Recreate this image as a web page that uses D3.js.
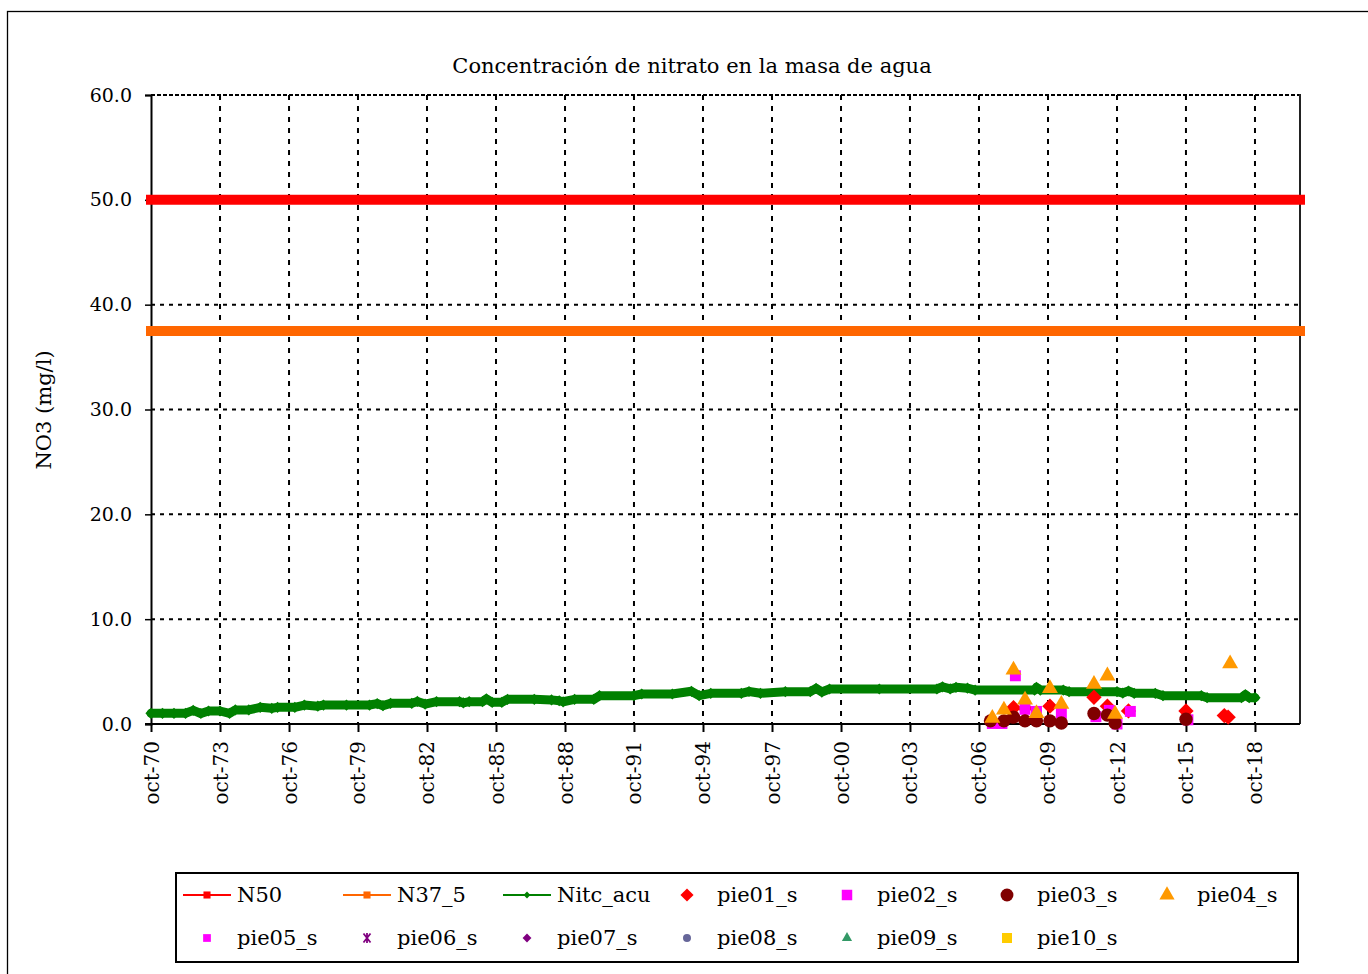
<!DOCTYPE html>
<html>
<head>
<meta charset="utf-8">
<script src="https://cdn.jsdelivr.net/npm/d3@7"></script>
<style>
  html, body { margin: 0; padding: 0; background: #fff; }
  svg { display: block; }
  text { font-family: "DejaVu Serif", "Liberation Serif", serif; fill: #000; }
</style>
</head>
<body>
<svg id="chart" width="1368" height="974"></svg>
<script>
// ---------- DATA ----------
const title = "Concentración de nitrato en la masa de agua";
const yLabel = "NO3 (mg/l)";
const yTicks = [0, 10, 20, 30, 40, 50, 60];
const xTickYears = [1970, 1973, 1976, 1979, 1982, 1985, 1988, 1991, 1994, 1997, 2000, 2003, 2006, 2009, 2012, 2015, 2018];
const n50Value = 50;
const n375Value = 37.5;

const nitcAcu = [
  ["1970-10", 1.02], ["1971-04", 1.02], ["1971-10", 1.02], ["1972-04", 1.02], ["1972-08", 1.30], ["1972-12", 1.00],
  ["1973-04", 1.24], ["1973-10", 1.24], ["1974-03", 1.02], ["1974-06", 1.34], ["1975-01", 1.34], ["1975-07", 1.59],
  ["1976-01", 1.50], ["1976-04", 1.59], ["1977-01", 1.59], ["1977-06", 1.81], ["1978-01", 1.70], ["1978-04", 1.81],
  ["1979-04", 1.81], ["1980-04", 1.81], ["1980-08", 1.95], ["1980-11", 1.75], ["1981-03", 1.97], ["1982-02", 1.97],
  ["1982-05", 2.15], ["1982-09", 1.90], ["1983-03", 2.13], ["1984-03", 2.13], ["1984-05", 2.02], ["1984-08", 2.13],
  ["1985-03", 2.13], ["1985-05", 2.40], ["1985-08", 2.07], ["1986-01", 2.07], ["1986-04", 2.35], ["1987-06", 2.35],
  ["1988-03", 2.30], ["1988-07", 2.22], ["1988-09", 2.12], ["1989-03", 2.35], ["1990-01", 2.35], ["1990-04", 2.70],
  ["1991-10", 2.70], ["1992-02", 2.86], ["1993-06", 2.86], ["1994-04", 3.12], ["1994-08", 2.70], ["1995-02", 2.93],
  ["1996-06", 2.93], ["1996-10", 3.10], ["1997-04", 2.93], ["1998-05", 3.08], ["1999-06", 3.08], ["1999-09", 3.40],
  ["1999-12", 3.05], ["2000-04", 3.34], ["2002-06", 3.34], ["2004-12", 3.34], ["2005-03", 3.55], ["2005-07", 3.35],
  ["2005-10", 3.50], ["2006-04", 3.42], ["2006-08", 3.24], ["2009-03", 3.24], ["2009-04", 3.50], ["2009-06", 3.24],
  ["2010-06", 3.24], ["2010-09", 3.08], ["2012-10", 3.08], ["2013-01", 2.95], ["2013-04", 3.15], ["2013-07", 2.93],
  ["2014-06", 2.93], ["2014-10", 2.70], ["2016-06", 2.70], ["2016-09", 2.51], ["2018-03", 2.51], ["2018-05", 2.80],
  ["2018-07", 2.51], ["2018-10", 2.51]
];

const pie01 = [["2008-04", 1.55], ["2008-10", 1.50], ["2009-11", 1.70], ["2011-10", 2.55], ["2012-05", 1.70],
  ["2013-04", 1.25], ["2015-10", 1.25], ["2017-06", 0.80], ["2017-08", 0.65]];
const pie02 = [["2007-05", 0.05], ["2007-10", 0.05], ["2008-05", 4.60], ["2008-10", 1.40], ["2009-04", 1.20],
  ["2010-05", 1.05], ["2011-11", 0.70], ["2012-06", 1.30], ["2012-10", 0.00], ["2013-05", 1.20], ["2015-11", 0.40]];
const pie03 = [["2007-04", 0.30], ["2007-11", 0.30], ["2008-04", 0.65], ["2008-10", 0.30], ["2009-04", 0.30],
  ["2009-11", 0.30], ["2010-05", 0.10], ["2011-10", 1.00], ["2012-05", 0.85], ["2012-09", 0.10], ["2015-10", 0.45]];
const pie04 = [["2007-05", 0.55], ["2007-11", 1.35], ["2008-04", 5.15], ["2008-10", 2.30], ["2009-04", 1.00],
  ["2009-11", 3.40], ["2010-05", 1.90], ["2011-10", 3.80], ["2012-05", 4.60], ["2012-09", 0.95], ["2017-09", 5.75]];

const legendRow1 = ["N50", "N37_5", "Nitc_acu", "pie01_s", "pie02_s", "pie03_s", "pie04_s"];
const legendRow2 = ["pie05_s", "pie06_s", "pie07_s", "pie08_s", "pie09_s", "pie10_s"];

// ---------- LAYOUT ----------
const svg = d3.select("#chart");
const L = 151, R = 1300, T = 95, B = 724;
const parse = d3.timeParse("%Y-%m");
const x = d3.scaleTime().domain([new Date(1970, 9, 1), new Date(2020, 8, 15)]).range([L, R]);
const y = d3.scaleLinear().domain([0, 60]).range([B, T]);

// outer border
svg.append("rect").attr("x", 7.5).attr("y", 11.5).attr("width", 1400).attr("height", 1000)
  .attr("fill", "none").attr("stroke", "#000").attr("stroke-width", 1.3);

// title
svg.append("text").attr("x", 692).attr("y", 73).attr("text-anchor", "middle")
  .style("font-size", "21px").text(title);

// y label
svg.append("text").attr("transform", "translate(51,410) rotate(-90)").attr("text-anchor", "middle")
  .style("font-size", "21px").text(yLabel);

// grid
const grid = svg.append("g");
grid.selectAll("line.h").data(yTicks.filter(d => d > 0 && d < 60)).join("line")
  .attr("x1", L).attr("x2", R).attr("y1", d => y(d)).attr("y2", d => y(d))
  .attr("stroke", "#000").attr("stroke-width", 2).attr("stroke-dasharray", "4,5");
grid.append("line").attr("x1", L).attr("x2", R).attr("y1", y(60)).attr("y2", y(60))
  .attr("stroke", "#000").attr("stroke-width", 2).attr("stroke-dasharray", "4,2");
grid.selectAll("line.v").data(xTickYears.slice(1)).join("line")
  .attr("x1", d => x(new Date(d, 9, 1))).attr("x2", d => x(new Date(d, 9, 1)))
  .attr("y1", T).attr("y2", B)
  .attr("stroke", "#000").attr("stroke-width", 2).attr("stroke-dasharray", "5,6");
// right border
svg.append("line").attr("x1", R).attr("x2", R).attr("y1", T - 1).attr("y2", B)
  .attr("stroke", "#222").attr("stroke-width", 2);

// axes
const yAxis = svg.append("g").attr("transform", `translate(${L},0)`)
  .call(d3.axisLeft(y).tickValues(yTicks).tickSize(6).tickPadding(13).tickFormat(d3.format(".1f")));
yAxis.select(".domain").attr("stroke", "#000").attr("stroke-width", 2);
yAxis.selectAll(".tick line").attr("stroke", "#000").attr("stroke-width", 1.5);
yAxis.selectAll("text").style("font-size", "19px").style("font-family", "DejaVu Serif");

const fmtYr = d3.timeFormat("%y");
const xAxis = svg.append("g").attr("transform", `translate(0,${B})`)
  .call(d3.axisBottom(x).tickValues(xTickYears.map(d => new Date(d, 9, 1))).tickSize(8)
    .tickFormat(d => "oct-" + fmtYr(d)));
xAxis.select(".domain").attr("stroke", "#000").attr("stroke-width", 2).attr("d", `M${L - 6},0H${R}`);
xAxis.selectAll(".tick line").attr("stroke", "#000").attr("stroke-width", 2);
xAxis.selectAll("text").style("font-size", "20px").style("font-family", "DejaVu Serif")
  .attr("transform", "rotate(-90)").attr("text-anchor", "end")
  .attr("x", -17).attr("y", 0).attr("dy", "0.35em");

// threshold lines
svg.append("line").attr("x1", x.range()[0]).attr("x2", x.range()[1])
  .attr("y1", y(n50Value)).attr("y2", y(n50Value))
  .attr("stroke", "#ff0000").attr("stroke-width", 10).attr("stroke-linecap", "square");
svg.append("line").attr("x1", x.range()[0]).attr("x2", x.range()[1])
  .attr("y1", y(n375Value)).attr("y2", y(n375Value))
  .attr("stroke", "#ff6600").attr("stroke-width", 10).attr("stroke-linecap", "square");

// Nitc_acu
const nitc = nitcAcu.map(d => ({ date: parse(d[0]), v: d[1] }));
svg.append("path").datum(nitc)
  .attr("d", d3.line().x(d => x(d.date)).y(d => y(d.v)))
  .attr("fill", "none").attr("stroke", "#008000").attr("stroke-width", 9).attr("stroke-linejoin", "round")
  .attr("stroke-linecap", "round");
svg.append("g").selectAll("path").data(nitc).join("path")
  .attr("transform", d => `translate(${x(d.date)},${y(d.v)})`)
  .attr("d", d3.symbol(d3.symbolDiamond2, 80)())
  .attr("fill", "#008000");

// scatter series
function scatter(data, sym, size, color) {
  svg.append("g").selectAll("path").data(data.map(d => ({ date: parse(d[0]), v: d[1] }))).join("path")
    .attr("transform", d => `translate(${x(d.date)},${y(d.v)})`)
    .attr("d", d3.symbol(sym, size)())
    .attr("fill", color);
}
scatter(pie01, d3.symbolDiamond2, 150, "#ff0000");
scatter(pie02, d3.symbolSquare, 120, "#ff00ff");
scatter(pie03, d3.symbolCircle, 140, "#800000");
scatter(pie04, d3.symbolTriangle, 110, "#ff9900");

// legend
const lg = svg.append("g");
lg.append("rect").attr("x", 176).attr("y", 873).attr("width", 1122).attr("height", 89)
  .attr("fill", "#fff").attr("stroke", "#000").attr("stroke-width", 2);
const colX = i => 207 + i * 160;
const row1Y = 895, row2Y = 938;
const row1Style = [
  { line: "#ff0000", sym: d3.symbolSquare, size: 50, color: "#ff0000" },
  { line: "#ff6600", sym: d3.symbolSquare, size: 50, color: "#ff6600" },
  { line: "#008000", sym: d3.symbolDiamond2, size: 30, color: "#008000" },
  { sym: d3.symbolDiamond2, size: 110, color: "#ff0000" },
  { sym: d3.symbolSquare, size: 110, color: "#ff00ff" },
  { sym: d3.symbolCircle, size: 130, color: "#800000" },
  { sym: d3.symbolTriangle, size: 100, color: "#ff9900" }
];
const row2Style = [
  { sym: d3.symbolSquare, size: 60, color: "#ff00ff" },
  { sym: "star", size: 60, color: "#800080" },
  { sym: d3.symbolDiamond2, size: 50, color: "#800080" },
  { sym: d3.symbolCircle, size: 50, color: "#666699" },
  { sym: d3.symbolTriangle, size: 45, color: "#339966" },
  { sym: d3.symbolSquare, size: 100, color: "#ffcc00" }
];
function legendItem(name, st, i, yy) {
  const cx = colX(i);
  if (st.line) {
    lg.append("line").attr("x1", cx - 24).attr("x2", cx + 24).attr("y1", yy).attr("y2", yy)
      .attr("stroke", st.line).attr("stroke-width", 2);
  }
  if (st.sym === "star") {
    lg.append("path").attr("transform", `translate(${cx},${yy})`)
      .attr("d", "M-3.5,-4.5L3.5,4.5M3.5,-4.5L-3.5,4.5M0,-5V5")
      .attr("stroke", st.color).attr("stroke-width", 1.8).attr("fill", "none");
  } else {
    lg.append("path").attr("transform", `translate(${cx},${yy})`)
      .attr("d", d3.symbol(st.sym, st.size)()).attr("fill", st.color);
  }
  lg.append("text").attr("x", cx + 30).attr("y", yy).attr("dy", "0.35em")
    .style("font-size", "21px").text(name);
}
legendRow1.forEach((n, i) => legendItem(n, row1Style[i], i, row1Y));
legendRow2.forEach((n, i) => legendItem(n, row2Style[i], i, row2Y));
</script>
</body>
</html>
